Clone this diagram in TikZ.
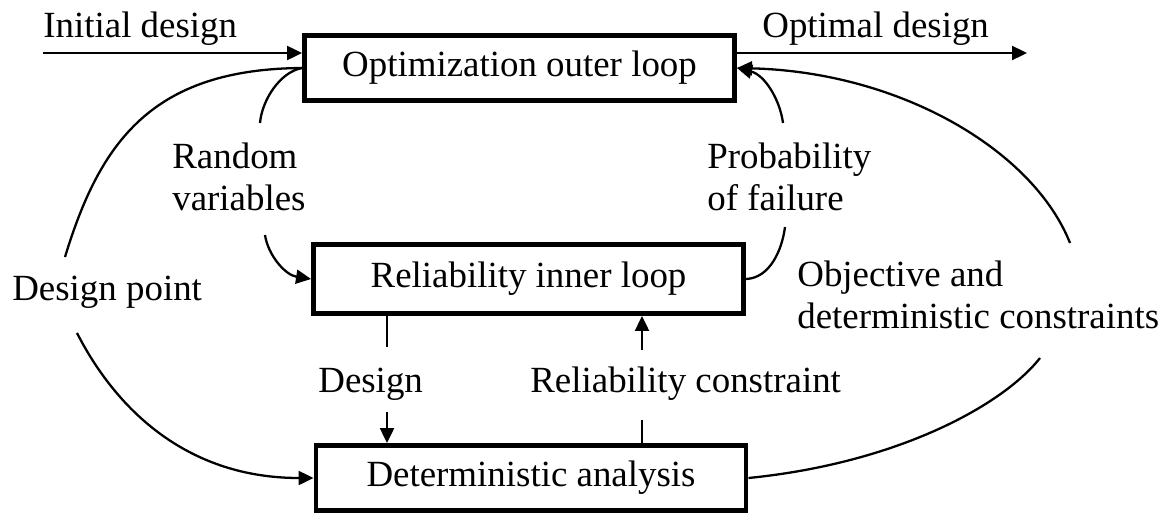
\documentclass[tikz,border=0pt]{standalone}
\usepackage{fontspec}
\setmainfont{Liberation Serif}
\usetikzlibrary{positioning, arrows.meta, calc}

\begin{document}
\begin{tikzpicture}[
    font=\fontsize{21}{23.5}\selectfont,
    box/.style={draw, line width=2.8pt, minimum width=8.6cm, minimum height=1.3cm, inner sep=0pt},
    lbl/.style={inner sep=0pt, align=left, anchor=base west},
    conn/.style={line width=1.3pt},
    arrow/.style={conn, -{Triangle[length=0.3cm, width=0.28cm]}}
  ]
  \useasboundingbox (0,0) rectangle (23.36,10.32);

  \node[box] (outer) at (10.39,8.96) {Optimization outer loop};
  \node[box, minimum height=1.38cm] (inner) at (10.57,4.74) {Reliability inner loop};
  \node[box] (det) at (10.62,0.76) {Deterministic analysis};

  \node[lbl] (init) at (0.86,9.58) {Initial design};
  \node[lbl] (opt) at (15.24,9.58) {Optimal design};
  \node[lbl] (rv) at (3.44,6.12) {Random\\variables};
  \node[lbl] (pf) at (14.14,6.12) {Probability\\of failure};
  \node[lbl] (dp) at (0.24,4.32) {Design point};
  \node[lbl] (obj) at (15.94,3.76) {Objective and\\deterministic constraints};
  \node[lbl] (dsg) at (6.36,2.48) {Design};
  \node[lbl] (rc) at (10.6,2.48) {Reliability constraint};

  % input and output of the outer loop
  \coordinate (in0) at (0.86,9.26);
  \coordinate (out1) at (20.54,9.26);
  \draw[arrow] (in0) -- (in0 -| outer.west);
  \draw[arrow] (out1 -| outer.east) -- (out1);

  % design point
  \coordinate (dp1) at (1.3,5.18);
  \coordinate (dp2) at (1.54,3.66);
  \draw[conn] (outer.west) .. controls (3.04,8.94) and (2.0,7.48) .. (dp1);
  \draw[arrow] (dp2) .. controls (2.36,2.06) and (3.8,0.76) .. (det.west);

  % random variables
  \coordinate (rv1) at (5.2,7.86);
  \coordinate (rv2) at (5.3,5.62);
  \draw[conn] (outer.west) .. controls (5.6,8.88) and (5.24,8.32) .. (rv1);
  \draw[arrow] (rv2) .. controls (5.36,5.22) and (5.7,4.82) .. (inner.west);

  % probability of failure
  \coordinate (pf1) at (15.7,5.78);
  \coordinate (pf2) at (15.66,7.86);
  \draw[conn] (pf1) .. controls (15.64,5.32) and (15.4,4.76) .. (inner.east);
  \draw[arrow] (pf2) .. controls (15.6,8.32) and (15.3,8.82) .. (outer.east);

  % objective and deterministic constraints
  \coordinate (ob1) at (20.8,3.16);
  \coordinate (ob2) at (21.4,5.46);
  \draw[conn] (det.east) .. controls (17.96,1.06) and (20.06,2.22) .. (ob1);
  \draw[arrow] (ob2) .. controls (20.66,7.32) and (18.0,8.88) .. (outer.east);

  % inner loop <-> deterministic analysis
  \coordinate (d1) at (7.74,3.38);
  \coordinate (d2) at (7.74,2.08);
  \draw[conn] (d1 |- inner.south) -- (d1);
  \draw[arrow] (d2) -- (d2 |- det.north);
  \coordinate (r1) at (12.84,1.92);
  \coordinate (r2) at (12.84,3.32);
  \draw[conn] (r1 |- det.north) -- (r1);
  \draw[arrow] (r2) -- (r2 |- inner.south);
\end{tikzpicture}
\end{document}
